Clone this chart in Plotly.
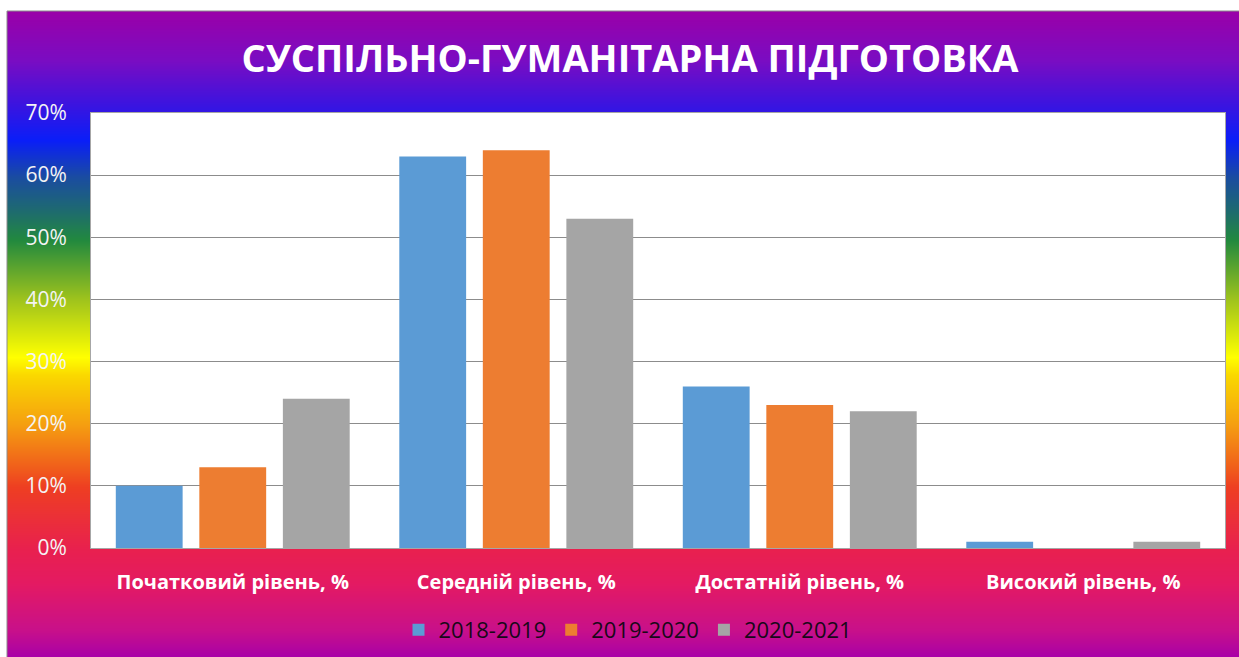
import base64, struct, zlib
import plotly.graph_objects as go

categories = ["Початковий рівень, %", "Середній рівень, %", "Достатній рівень, %", "Високий рівень, %"]
series_names = ["2018-2019", "2019-2020", "2020-2021"]
v2018 = [0.10, 0.63, 0.26, 0.01]
v2019 = [0.13, 0.64, 0.23, 0.00]
v2020 = [0.24, 0.53, 0.22, 0.01]
colors = ["#5B9BD5", "#ED7D31", "#A5A5A5"]
y_ticks = [0, 0.1, 0.2, 0.3, 0.4, 0.5, 0.6, 0.7]

FIG_W, FIG_H = 1239, 657
BG_TOP, BG_LEFT = 11, 7

# vertical rainbow gradient background: (pixel row, colour)
stops_px = [
    (11, "#9A00A8"),
    (60, "#7A0CC2"),
    (105, "#3A14E0"),
    (140, "#0A1EF8"),
    (177, "#1A4CA0"),
    (210, "#1E6A70"),
    (240, "#22893E"),
    (300, "#A0C41C"),
    (357, "#FFFF00"),
    (375, "#FAD800"),
    (423, "#F5A010"),
    (470, "#F05A1C"),
    (487, "#EE3E22"),
    (550, "#E8204F"),
    (583, "#E41A62"),
    (630, "#C8108A"),
    (657, "#A800A8"),
]


def hex2rgb(h):
    h = h.lstrip("#")
    return tuple(int(h[i:i + 2], 16) for i in (0, 2, 4))


stops = [(p, hex2rgb(c)) for p, c in stops_px]


def grad_color(p):
    for (p0, c0), (p1, c1) in zip(stops[:-1], stops[1:]):
        if p0 <= p <= p1:
            t = (p - p0) / (p1 - p0) if p1 > p0 else 0
            return tuple(int(round(a + (b - a) * t)) for a, b in zip(c0, c1))
    return stops[-1][1] if p > stops[-1][0] else stops[0][1]


H = FIG_H - BG_TOP + 2
W = 4
raw = b""
for i in range(H):
    c = grad_color(BG_TOP + i)
    raw += b"\x00" + bytes(c) * W


def chunk(tag, data):
    return struct.pack(">I", len(data)) + tag + data + struct.pack(">I", zlib.crc32(tag + data) & 0xFFFFFFFF)


png = b"\x89PNG\r\n\x1a\n" + chunk(b"IHDR", struct.pack(">IIBBBBB", W, H, 8, 2, 0, 0, 0)) \
    + chunk(b"IDAT", zlib.compress(raw, 9)) + chunk(b"IEND", b"")
uri = "data:image/png;base64," + base64.b64encode(png).decode()

L, R, T, B = 91, 14, 113, 109
PW = FIG_W - L - R
PH = FIG_H - T - B


def px_x(p):
    return (p - L) / PW


def px_y(p):
    return (FIG_H - B - p) / PH


FONT = "Open Sans, DejaVu Sans, sans-serif"

fig = go.Figure()
for name, vals, col in zip(series_names, [v2018, v2019, v2020], colors):
    fig.add_trace(go.Bar(x=categories, y=vals, name=name, marker_color=col, marker_line_width=0))

fig.add_layout_image(
    source=uri, xref="paper", yref="paper",
    x=px_x(BG_LEFT), y=px_y(BG_TOP), sizex=(FIG_W - BG_LEFT + 2) / PW, sizey=H / PH,
    xanchor="left", yanchor="top", sizing="stretch", layer="below",
)
# white plot area (under gridlines)
fig.add_shape(type="rect", xref="x domain", yref="y domain", x0=0, x1=1, y0=0, y1=1,
              fillcolor="white", line=dict(width=0), layer="below")
# thin grey border at top/left of the gradient box
fig.add_shape(type="line", xref="paper", yref="paper", x0=px_x(BG_LEFT), x1=px_x(FIG_W), y0=px_y(BG_TOP), y1=px_y(BG_TOP),
              line=dict(color="#8C8C8C", width=1))
fig.add_shape(type="line", xref="paper", yref="paper", x0=px_x(BG_LEFT), x1=px_x(BG_LEFT), y0=px_y(BG_TOP), y1=px_y(FIG_H),
              line=dict(color="#8C8C8C", width=1))

fig.update_layout(
    width=FIG_W, height=FIG_H,
    margin=dict(l=L, r=R, t=T, b=B, autoexpand=False),
    paper_bgcolor="white",
    plot_bgcolor="white",
    barmode="group", bargap=0.116, bargroupgap=0.2,
    title=dict(text="<b>СУСПІЛЬНО-ГУМАНІТАРНА ПІДГОТОВКА</b>", x=630 / FIG_W, xref="container", xanchor="center",
               y=1 - 59 / FIG_H, yanchor="middle",
               font=dict(family=FONT, size=38, color="white")),
    font=dict(family=FONT),
    legend=dict(orientation="h", x=px_x(628), xanchor="center", y=px_y(630), yanchor="middle",
                font=dict(size=22, color="#180818"), bgcolor="rgba(0,0,0,0)", itemwidth=30,
                traceorder="normal"),
    showlegend=True,
)
fig.update_yaxes(range=[0, 0.7], tickvals=y_ticks, tickformat=".0%",
                 showgrid=True, gridcolor="#8C8C8C", gridwidth=1,
                 ticks="outside", ticklen=19, tickcolor="rgba(0,0,0,0)",
                 tickfont=dict(size=21, color="#F4F4F4"),
                 showline=True, linecolor="#A6A6A6", mirror=True, zeroline=False)
fig.update_xaxes(ticks="outside", ticklen=16, tickcolor="rgba(0,0,0,0)",
                 tickfont=dict(size=20, color="white"),
                 tickprefix="<b>", ticksuffix="</b>",
                 showline=True, linecolor="#A6A6A6", mirror=True)

fig.write_html("out.html", config={"displayModeBar": False},
               post_script="document.body.style.margin='0';document.body.style.overflow='hidden';")
